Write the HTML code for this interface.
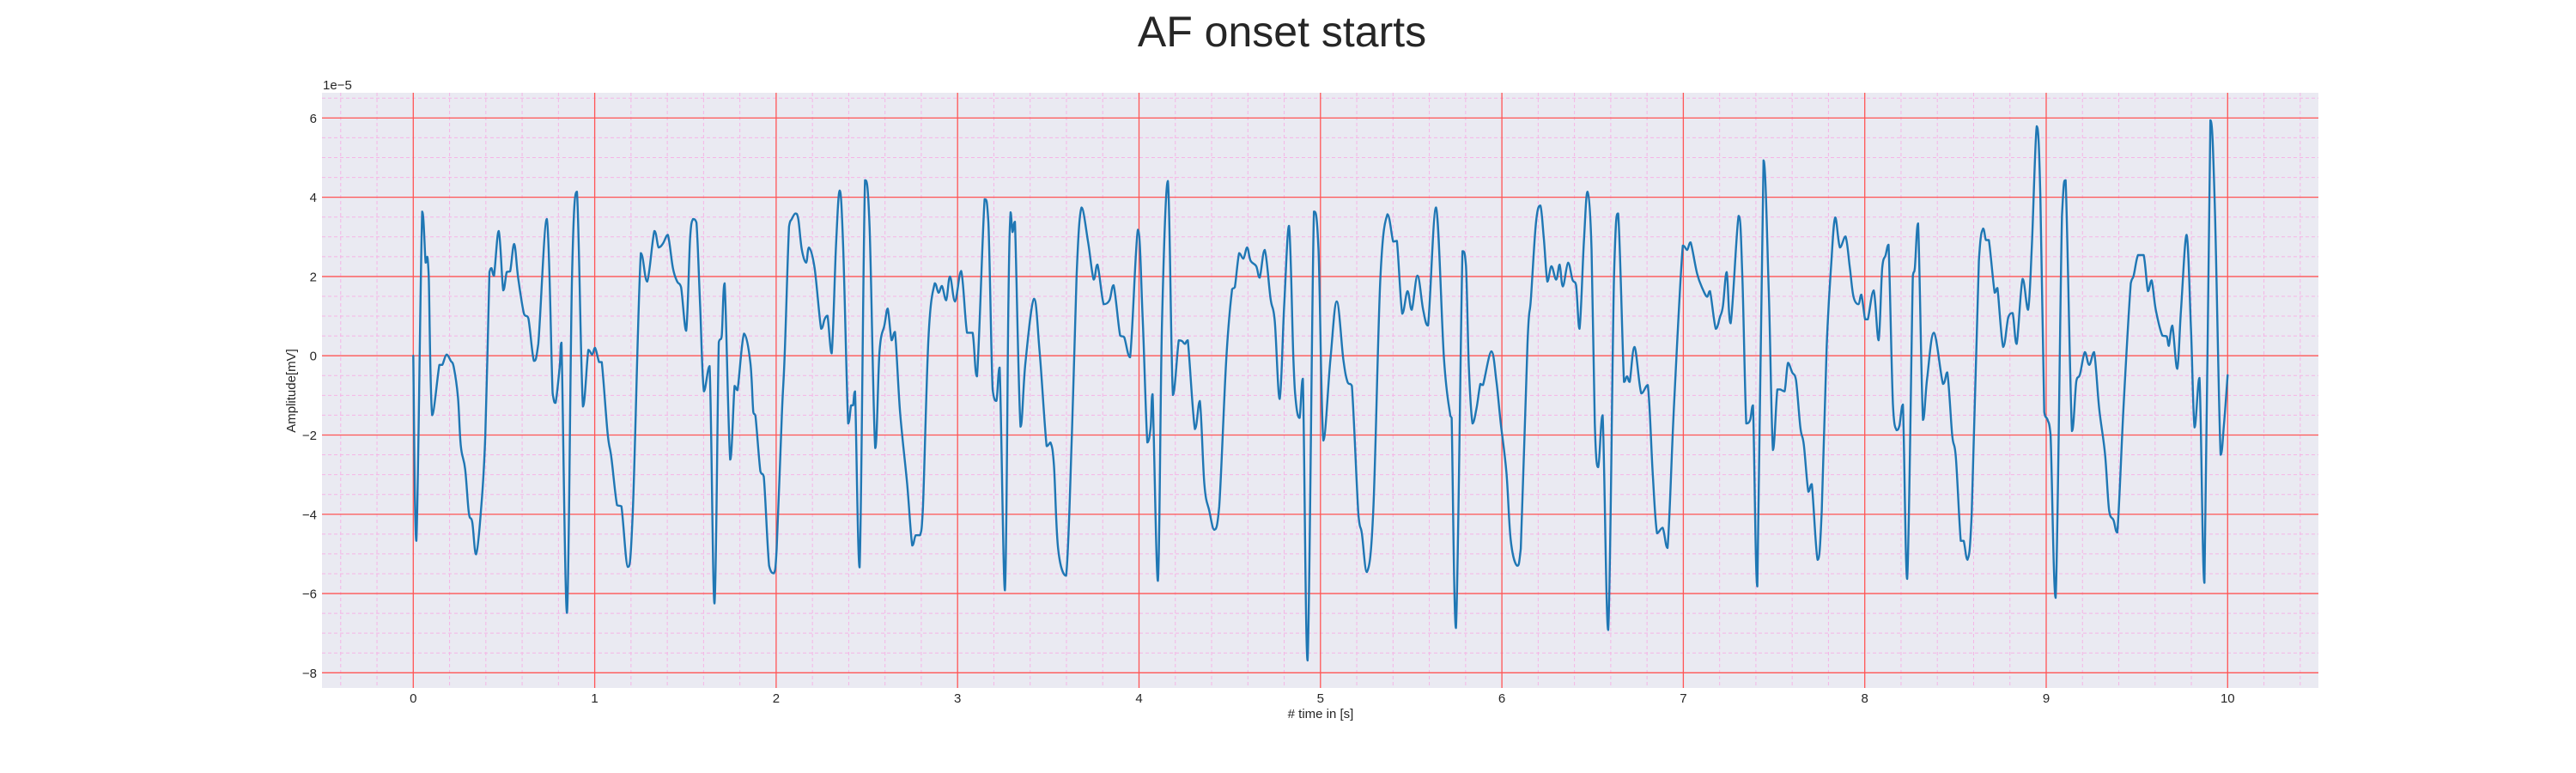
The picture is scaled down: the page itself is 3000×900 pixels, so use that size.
<!DOCTYPE html>
<html><head><meta charset="utf-8"><title>AF onset starts</title>
<style>
html,body{margin:0;padding:0;background:#fff;}
svg{display:block;font-family:"Liberation Sans",Arial,sans-serif;}
</style></head>
<body>
<svg id="chart" width="3000" height="900" viewBox="0 0 3000 900" xmlns="http://www.w3.org/2000/svg">
<rect x="0" y="0" width="3000" height="900" fill="#ffffff"/>
<text x="1493" y="54" font-size="50" fill="#262626" text-anchor="middle">AF onset starts</text>
<rect x="375" y="108" width="2325" height="693" fill="#eaeaf2"/>
<g id="grid"></g>
<g id="series"></g>
<g id="ticks"></g>
<text x="376" y="104" font-size="15" fill="#262626">1e−5</text>
<text x="1538" y="836" font-size="15" fill="#262626" text-anchor="middle"># time in [s]</text>
<text x="0" y="0" font-size="15" fill="#262626" text-anchor="middle" transform="translate(344,455) rotate(-90)">Amplitude[mV]</text>
</svg>
<script>
const times = [0,0.017,0.049,0.068,0.077,0.085,0.104,0.144,0.160,0.183,0.207,0.223,0.246,0.262,0.286,0.306,0.325,0.346,0.373,0.397,0.420,0.431,0.445,0.471,0.496,0.515,0.534,0.556,0.578,0.610,0.634,0.665,0.689,0.736,0.768,0.784,0.807,0.817,0.847,0.875,0.902,0.935,0.965,0.986,1.002,1.024,1.039,1.071,1.092,1.123,1.147,1.182,1.210,1.254,1.289,1.329,1.352,1.376,1.403,1.431,1.455,1.476,1.504,1.526,1.542,1.561,1.581,1.602,1.633,1.660,1.684,1.700,1.716,1.747,1.771,1.787,1.823,1.858,1.874,1.886,1.913,1.932,1.961,1.987,2.003,2.031,2.047,2.071,2.086,2.107,2.122,2.141,2.165,2.181,2.212,2.248,2.267,2.283,2.306,2.330,2.350,2.369,2.397,2.413,2.424,2.435,2.460,2.490,2.515,2.546,2.570,2.597,2.615,2.636,2.655,2.683,2.722,2.750,2.769,2.793,2.809,2.840,2.874,2.895,2.914,2.937,2.958,2.986,3.020,3.052,3.083,3.107,3.149,3.170,3.193,3.214,3.232,3.261,3.280,3.292,3.303,3.316,3.347,3.374,3.421,3.452,3.491,3.512,3.531,3.554,3.598,3.630,3.656,3.683,3.719,3.750,3.771,3.805,3.837,3.860,3.896,3.918,3.951,3.994,4.020,4.046,4.064,4.075,4.104,4.127,4.159,4.187,4.219,4.237,4.253,4.269,4.308,4.335,4.360,4.387,4.415,4.442,4.481,4.513,4.528,4.552,4.575,4.596,4.615,4.646,4.665,4.693,4.725,4.748,4.775,4.800,4.827,4.851,4.866,4.885,4.903,4.929,4.964,4.989,5.016,5.055,5.090,5.126,5.149,5.173,5.209,5.228,5.256,5.291,5.330,5.369,5.401,5.421,5.451,5.480,5.503,5.535,5.566,5.593,5.637,5.681,5.716,5.723,5.747,5.783,5.802,5.818,5.838,5.860,5.881,5.896,5.942,5.970,5.994,6.025,6.049,6.084,6.104,6.141,6.160,6.188,6.212,6.231,6.251,6.273,6.299,6.318,6.336,6.365,6.389,6.409,6.428,6.452,6.472,6.494,6.512,6.531,6.555,6.586,6.618,6.641,6.673,6.689,6.704,6.731,6.768,6.804,6.831,6.855,6.886,6.913,6.949,6.997,7.021,7.040,7.076,7.107,7.131,7.147,7.179,7.202,7.218,7.239,7.261,7.305,7.325,7.347,7.368,7.384,7.408,7.442,7.471,7.494,7.518,7.534,7.558,7.577,7.600,7.621,7.645,7.664,7.689,7.708,7.740,7.763,7.790,7.815,7.837,7.863,7.894,7.918,7.938,7.965,7.981,8.002,8.017,8.049,8.076,8.096,8.115,8.131,8.155,8.175,8.191,8.210,8.234,8.265,8.276,8.294,8.321,8.344,8.381,8.431,8.455,8.482,8.502,8.529,8.545,8.566,8.589,8.629,8.652,8.668,8.684,8.716,8.731,8.763,8.791,8.815,8.837,8.870,8.900,8.921,8.948,8.968,8.989,9.008,9.024,9.052,9.087,9.107,9.142,9.166,9.186,9.213,9.237,9.264,9.292,9.324,9.347,9.371,9.392,9.427,9.466,9.482,9.506,9.537,9.561,9.581,9.604,9.640,9.664,9.676,9.695,9.722,9.743,9.774,9.798,9.818,9.845,9.872,9.905,9.929,9.961,9.980,10.000];
const amplitudes = [0,-4.67,3.64,2.35,2.50,2.02,-1.50,-0.23,-0.23,0.03,-0.13,-0.28,-1.04,-2.28,-2.86,-3.96,-4.20,-5.01,-3.91,-2.00,2.11,2.21,2.02,3.15,1.65,2.11,2.13,2.82,1.97,1.06,0.95,-0.13,0.30,3.45,-0.95,-1.19,-0.28,0.33,-6.49,2.02,4.14,-1.28,0.15,0.03,0.20,-0.16,-0.16,-1.95,-2.57,-3.77,-3.80,-5.33,-3.91,2.59,1.87,3.15,2.73,2.83,3.05,2.21,1.87,1.73,0.63,2.97,3.45,3.36,1.25,-0.90,-0.26,-6.25,0.34,0.49,1.83,-2.62,-0.76,-0.87,0.56,-0.18,-1.42,-1.52,-2.91,-3.05,-5.30,-5.49,-4.87,-1.52,0.01,3.26,3.45,3.59,3.45,2.69,2.35,2.73,2.21,0.68,0.92,1.01,0.06,2.78,4.17,2.78,-1.71,-1.25,-1.25,-0.90,-5.34,4.43,3.26,-2.33,0.11,0.77,1.19,0.39,0.60,-1.42,-3.24,-4.79,-4.53,-4.53,-3.86,0.49,1.83,1.59,1.76,1.40,2.00,1.37,2.14,0.58,0.58,-0.52,3.95,3.36,-0.85,-1.14,-0.30,-5.92,1.35,3.62,3.12,3.38,-1.79,-0.18,1.44,0.11,-2.28,-2.19,-2.76,-4.87,-5.55,-2.00,2.02,3.74,2.88,1.92,2.30,1.30,1.40,1.78,0.51,0.47,-0.04,3.18,0.97,-2.19,-1.81,-0.97,-5.68,0.87,4.41,-0.99,0.39,0.37,0.30,0.39,-1.85,-1.14,-3.24,-3.91,-4.39,-3.81,-0.09,1.68,1.73,2.59,2.45,2.73,2.40,2.26,1.97,2.67,1.44,0.87,-1.09,1.25,3.28,-0.09,-1.23,-1.57,-0.58,-7.69,3.64,2.69,-2.14,-0.09,1.37,-0.09,-0.66,-0.76,-4.01,-4.48,-5.46,-3.91,1.92,3.57,2.88,2.90,1.06,1.63,1.16,2.02,1.16,0.76,3.74,-0.09,-1.52,-1.57,-6.87,2.64,2.26,-0.28,-1.71,-1.33,-0.71,-0.74,0.11,-0.66,-1.71,-2.95,-4.67,-5.30,-4.87,0.30,1.44,3.36,3.79,2.97,1.87,2.26,1.92,2.30,1.75,2.35,1.92,1.78,0.68,2.88,4.14,2.69,-1.71,-2.81,-1.50,-6.92,2.02,3.59,-0.66,-0.52,-0.66,0.22,-0.95,-0.74,-2.95,-4.48,-4.34,-4.85,-1.23,2.78,2.67,2.86,2.07,1.68,1.49,1.63,0.68,0.98,1.25,2.11,0.82,3.53,2.02,-1.71,-1.62,-1.25,-5.82,4.93,1.63,-2.38,-0.85,-0.85,-0.90,-0.18,-0.42,-0.61,-1.81,-2.24,-3.43,-3.24,-5.15,-3.91,0.20,2.30,3.49,2.73,3.01,2.21,1.49,1.30,1.54,0.92,0.92,1.65,0.39,2.21,2.54,2.80,-1.23,-1.88,-1.76,-1.23,-5.63,2.02,2.21,3.34,-1.62,-0.56,0.58,-0.71,-0.42,-2.00,-2.57,-4.67,-4.67,-5.15,-4.01,2.40,3.21,2.92,2.92,1.59,1.71,0.22,0.97,1.08,0.30,1.94,1.16,2.78,5.79,4.02,-1.42,-1.62,-2.00,-6.11,3.55,4.43,-1.90,-0.64,-0.47,0.09,-0.23,0.09,-1.33,-2.48,-3.91,-4.15,-4.46,-1.23,1.83,2.02,2.54,2.54,1.63,1.90,1.16,0.51,0.49,0.25,0.76,-0.33,1.16,3.05,0.68,-1.81,-0.56,-5.73,5.94,3.82,-2.50,-1.71,-0.49];
const xTicks = [0,1,2,3,4,5,6,7,8,9,10];
const yTicks = [6,4,2,0,-2,-4,-6,-8];
const yTickLabels = ["6","4","2","0","−2","−4","−6","−8"];

const PL=375, PR=2700, PT=108, PB=801;
function xScale(t){ return 481.3 + t*211.3; }
function yScale(v){ return 414.2 - v*46.14; }
const NS="http://www.w3.org/2000/svg";
function mk(tag, attrs, parent){
  const e=document.createElementNS(NS,tag);
  for(const k in attrs) e.setAttribute(k,attrs[k]);
  parent.appendChild(e); return e;
}
const grid=document.getElementById('grid');
for(let i=-2;i<=52;i++){
  const t=i*0.2; if(i%5===0) continue;
  const x=xScale(t); if(x<PL||x>PR) continue;
  const l=mk('line',{x1:x,x2:x,y1:PT,y2:PB,stroke:'#f5b5e6','stroke-width':1,'stroke-dasharray':'4,3'},grid);
  
  
}
for(let i=-17;i<=14;i++){
  const v=i*0.5; if(i%4===0) continue;
  const y=yScale(v); if(y<PT||y>PB) continue;
  const l=mk('line',{x1:PL,x2:PR,y1:y,y2:y,stroke:'#f5b5e6','stroke-width':1,'stroke-dasharray':'4,3'},grid);
  
  
}
const ticks=document.getElementById('ticks');
xTicks.forEach(t=>{
  const x=xScale(t);
  const l=mk('line',{x1:x,x2:x,y1:PT,y2:PB,stroke:'#ff5555','stroke-width':1.3},grid);
  
  
  const tx=mk('text',{x:x,y:818,'font-size':15,fill:'#262626','text-anchor':'middle'},ticks);
  tx.textContent=String(t);
  
  
});
yTicks.forEach((v,i)=>{
  const y=yScale(v);
  const l=mk('line',{x1:PL,x2:PR,y1:y,y2:y,stroke:'#ff5555','stroke-width':1.3},grid);
  
  
  const tx=mk('text',{x:369,y:y+5.5,'font-size':15,fill:'#262626','text-anchor':'end'},ticks);
  tx.textContent=yTickLabels[i];
  
  
});
const P=times.map((t,i)=>[xScale(t),yScale(amplitudes[i])]);
let d='M'+P[0][0].toFixed(1)+','+P[0][1].toFixed(1);
const k=0.18;
function clamp(v,a,b){const lo=Math.min(a,b),hi=Math.max(a,b);return Math.max(lo,Math.min(hi,v));}
for(let i=0;i<P.length-1;i++){
  const p0=P[Math.max(0,i-1)],p1=P[i],p2=P[i+1],p3=P[Math.min(P.length-1,i+2)];
  const c1x=p1[0]+(p2[0]-p0[0])*k, c1y=clamp(p1[1]+(p2[1]-p0[1])*k,p1[1],p2[1]);
  const c2x=p2[0]-(p3[0]-p1[0])*k, c2y=clamp(p2[1]-(p3[1]-p1[1])*k,p1[1],p2[1]);
  d+=' C'+c1x.toFixed(1)+','+c1y.toFixed(1)+' '+c2x.toFixed(1)+','+c2y.toFixed(1)+' '+p2[0].toFixed(1)+','+p2[1].toFixed(1);
}
const line=mk('path',{d:d,fill:'none',stroke:'#1f77b4','stroke-width':2.4,'stroke-linejoin':'round','stroke-linecap':'round'},document.getElementById('series'));


</script>
</body></html>
